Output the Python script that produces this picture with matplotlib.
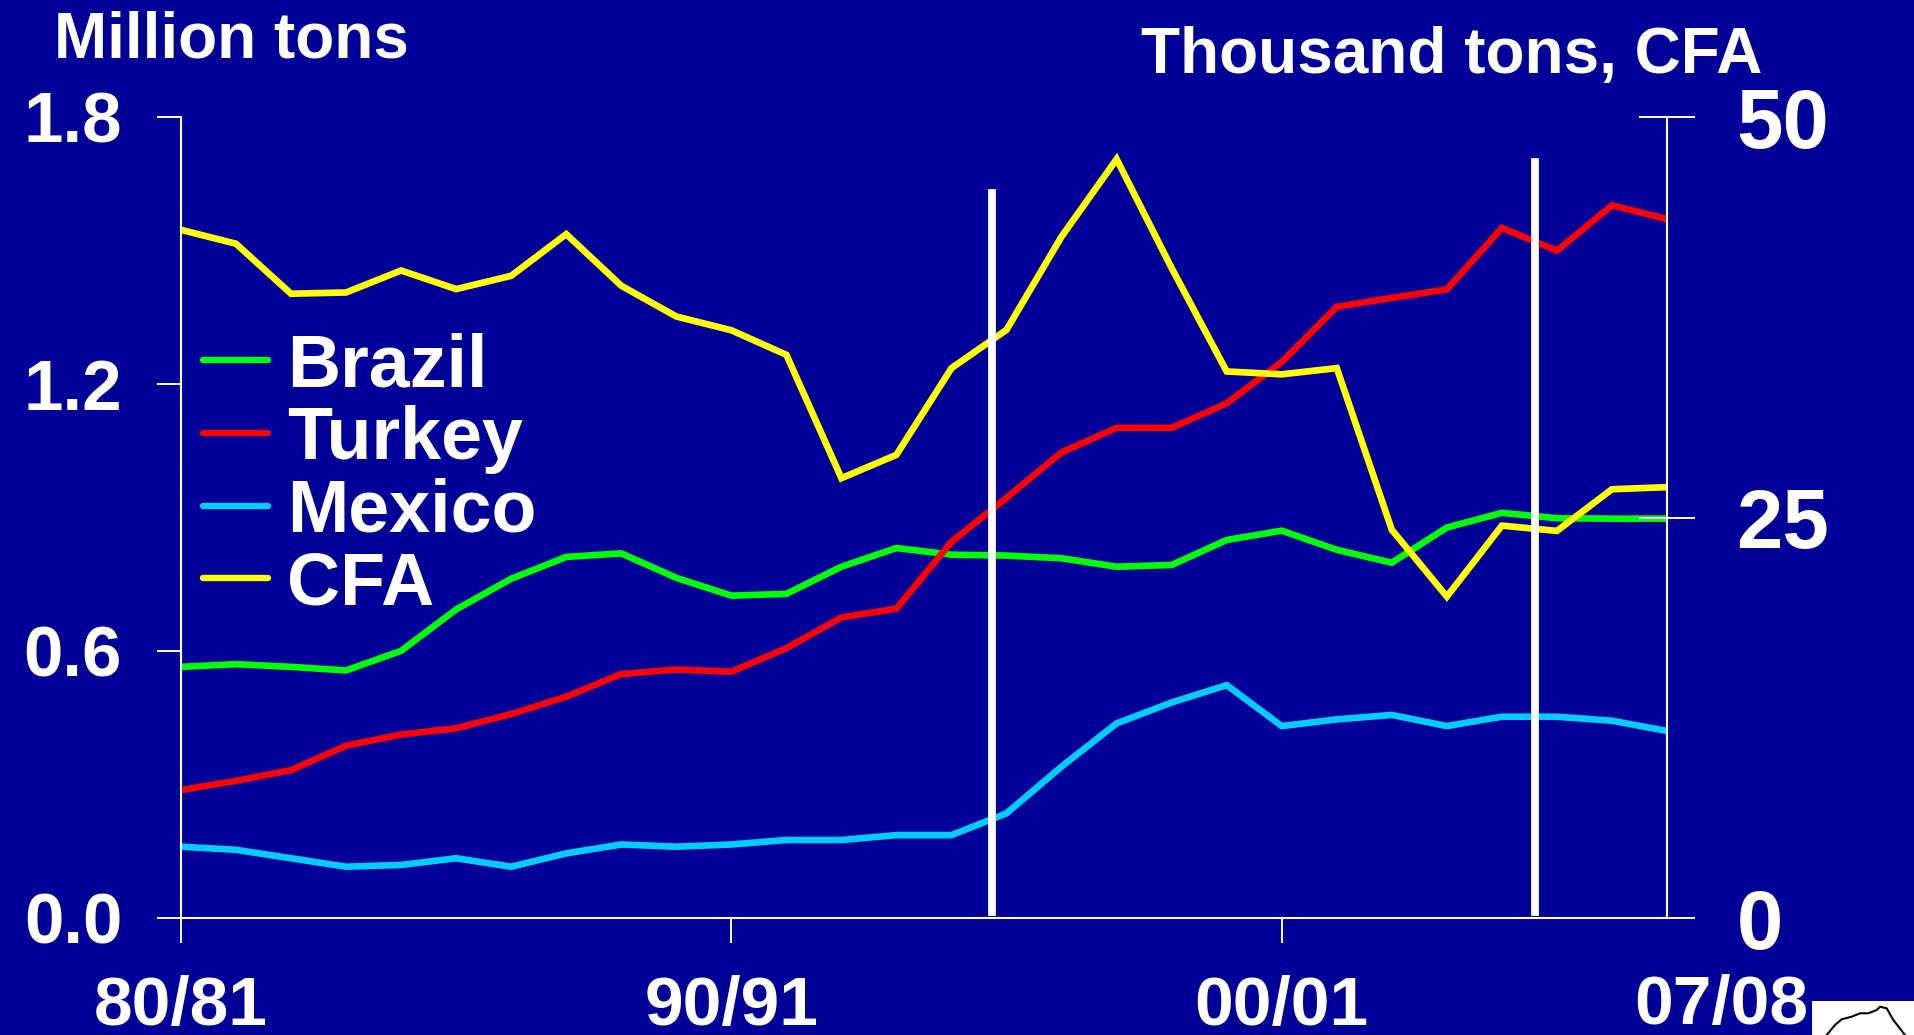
import matplotlib
matplotlib.use("Agg")
import matplotlib.pyplot as plt
from matplotlib.lines import Line2D
from matplotlib.patches import Rectangle

BG = "#000099"
plt.rcParams["font.family"] = ["Liberation Sans", "DejaVu Sans"]
plt.rcParams["font.weight"] = "bold"

# crop seasons 80/81 .. 07/08, index 0..27
seasons = [f"{y % 100:02d}/{(y + 1) % 100:02d}" for y in range(1980, 2008)]
x = list(range(len(seasons)))

# million tons (left axis)
brazil = [0.565, 0.571, 0.565, 0.557, 0.601, 0.694, 0.763, 0.812, 0.820, 0.765,
          0.725, 0.729, 0.790, 0.832, 0.817, 0.815, 0.809, 0.790, 0.794, 0.850,
          0.871, 0.828, 0.799, 0.878, 0.911, 0.899, 0.898, 0.898]
turkey = [0.288, 0.309, 0.333, 0.388, 0.413, 0.427, 0.459, 0.498, 0.549, 0.559,
          0.554, 0.607, 0.676, 0.696, 0.846, 0.945, 1.047, 1.102, 1.102, 1.157,
          1.250, 1.374, 1.394, 1.413, 1.551, 1.500, 1.602, 1.571]
mexico = [0.161, 0.154, 0.135, 0.116, 0.120, 0.135, 0.116, 0.146, 0.166, 0.161,
          0.166, 0.176, 0.176, 0.187, 0.187, 0.236, 0.341, 0.438, 0.485, 0.524,
          0.432, 0.447, 0.457, 0.432, 0.453, 0.453, 0.444, 0.421]
# thousand tons (right axis)
cfa = [42.97, 42.10, 38.98, 39.06, 40.43, 39.27, 40.10, 42.70, 39.48, 37.56,
       36.70, 35.17, 27.47, 28.93, 34.34, 36.73, 42.55, 47.38, 40.58, 34.13,
       33.95, 34.34, 24.25, 20.08, 24.51, 24.18, 26.78, 26.91]

series = [("Brazil", brazil, "#00ff00"), ("Turkey", turkey, "#ff0000"),
          ("Mexico", mexico, "#00ccff"), ("CFA", cfa, "#ffff00")]

left_ticks = [0.0, 0.6, 1.2, 1.8]
right_ticks = [0, 25, 50]
xtick_pos = [0, 10, 20]
marker_seasons = [14.74, 24.61]   # white vertical markers
marker_tops = [0.905, 0.944]      # axes fraction

fig = plt.figure(figsize=(19.15, 10.35), dpi=100, facecolor=BG)
ax = fig.add_axes([0.0945, 0.1127, 0.776, 0.7741])
ax.set_facecolor(BG)
ax2 = ax.twinx()

lw = 4.8
for name, vals, col in series[:3]:
    ax.plot(x, vals, color=col, lw=lw, solid_joinstyle="miter")
ax2.plot(x, cfa, color=series[3][2], lw=lw, solid_joinstyle="miter")

for xm, top in zip(marker_seasons, marker_tops):
    ax2.axvline(xm, ymin=0.0076, ymax=top, color="white", lw=5.6, zorder=5)

ax.set_xlim(0, 27)
ax.set_ylim(0, 1.8)
ax2.set_ylim(0, 50)

for a in (ax, ax2):
    a.spines["top"].set_visible(False)
    for s in a.spines.values():
        s.set_color("white")
        s.set_linewidth(1.5)
ax.spines["right"].set_visible(False)
ax2.spines["left"].set_visible(False)
ax2.spines["bottom"].set_visible(False)

ax.set_yticks(left_ticks)
ax.set_yticklabels([f"{v:.1f}" for v in left_ticks])
ax.tick_params(axis="y", direction="out", length=17.3, width=1.4, color="white",
               labelcolor="white", labelsize=51, pad=25)
ax.set_xticks(xtick_pos)
ax.set_xticklabels([seasons[i] for i in xtick_pos])
ax.tick_params(axis="x", direction="out", length=18, width=1.4, color="white",
               labelcolor="white", labelsize=50, pad=23)
ax2.set_yticks(right_ticks)
ax2.set_yticklabels([str(v) for v in right_ticks])
ax2.tick_params(axis="y", direction="inout", length=40, width=1.4, color="white",
                labelcolor="white", labelsize=60, pad=30)

ax.annotate(seasons[-1], xy=(27, 0), xycoords=("data", "axes fraction"),
            xytext=(39, -40), textcoords="offset points", ha="center", va="top",
            color="white", fontsize=50, fontweight="bold")

fig.text(0.028, 0.9446, "Million tons", color="white", fontsize=46,
         fontweight="bold", ha="left", va="baseline")
fig.text(0.5956, 0.9298, "Thousand tons, CFA", color="white", fontsize=46,
         fontweight="bold", ha="left", va="baseline")

# legend, drawn by hand to match the tight row spacing
for k, (name, vals, col) in enumerate(series):
    yl = 0.6522 - k * 0.07034
    fig.add_artist(Line2D([0.1058, 0.1401], [yl, yl], color=col, lw=4.6,
                          solid_capstyle="round", transform=fig.transFigure))
    fig.text(0.1500, yl - 0.0254, name, color="white", fontsize=53,
             fontweight="bold", ha="left", va="baseline")

# corner of the logo peeking in at bottom right
fig.add_artist(Rectangle((0.9462, 0.0), 0.0538, 0.0329, transform=fig.transFigure,
                         facecolor="white", edgecolor="none"))
lx = [1826.7, 1835, 1841.7, 1851.7, 1860, 1868.3, 1876.7, 1880, 1886.7, 1893.3, 1905]
ly = [1035, 1025, 1019.3, 1016.7, 1013.3, 1013.3, 1010, 1006.7, 1008.3, 1020, 1035]
fig.add_artist(Line2D([v / 1915 for v in lx], [1 - v / 1035 for v in ly],
                      color="black", lw=1.5, transform=fig.transFigure))

fig.savefig("out.png", dpi=100, facecolor=BG)
